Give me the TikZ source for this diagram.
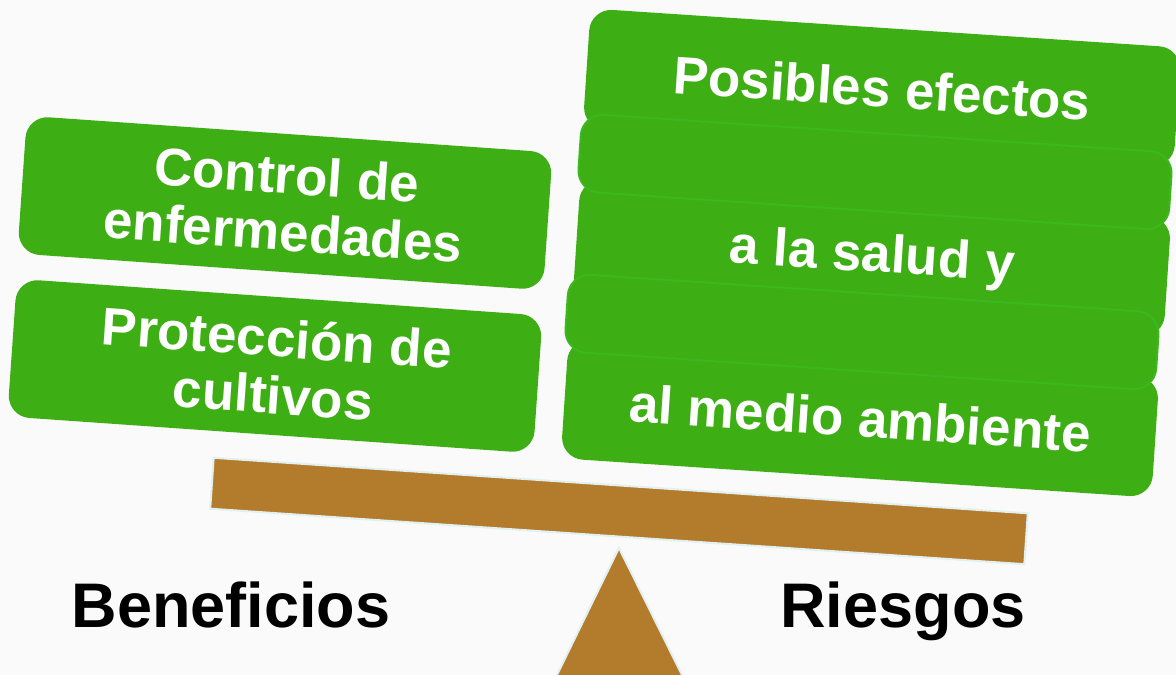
\documentclass[tikz,border=0pt]{standalone}
\usepackage{fontspec}
\setmainfont{Liberation Sans}
\definecolor{leafgreen}{RGB}{62,174,21}
\definecolor{edgegreen}{RGB}{58,184,30}
\definecolor{plankbrown}{RGB}{179,123,44}
\definecolor{paleedge}{RGB}{226,240,240}
\definecolor{bggray}{RGB}{250,250,250}
\begin{document}
\begin{tikzpicture}[x=1pt, y=1pt,
    greenbox/.style={rectangle, rounded corners=22pt, fill=leafgreen, text=white,
        font=\fontsize{53}{57}\selectfont\bfseries, align=center, inner sep=0pt},
    leftbox/.style={greenbox, minimum width=527pt, minimum height=138pt, rotate=-4},
    rightbox/.style={greenbox, minimum width=592pt, minimum height=120pt, rotate=-3.8},
    bandbox/.style={rightbox, minimum height=78pt, draw=edgegreen, line width=2pt},
    sidelabel/.style={font=\fontsize{63}{63}\selectfont\bfseries, anchor=base}]
    \fill[bggray] (0,0) rectangle (1176,675);
    \useasboundingbox (0,0) rectangle (1176,675);
    \node[leftbox] (ctrl) at (285,472) {Control de\\enfermedades};
    \node[leftbox] (prot) at (275,309) {Protección de\\cultivos};
    \node[rightbox] (efectos) at (882,587) {Posibles efectos};
    \node[rightbox] (salud) at (872,417) {a la salud y};
    \node[rightbox] (medio) at (860,257) {al medio ambiente};
    \node[bandbox] (bandA) at (875,503) {};
    \node[bandbox] (bandB) at (862,343) {};
    \node[rectangle, fill=plankbrown, draw=paleedge, line width=2pt,
        minimum width=816pt, minimum height=51pt, rotate=-3.9] (plank) at (619,164) {};
    \draw[fill=plankbrown, draw=paleedge, line width=2pt] (619,127) -- (556,-2) -- (683,-2) -- cycle;
    \node[sidelabel] (benef) at (231,47) {Beneficios};
    \node[sidelabel] (riesgos) at (903,47) {Riesgos};
\end{tikzpicture}
\end{document}
